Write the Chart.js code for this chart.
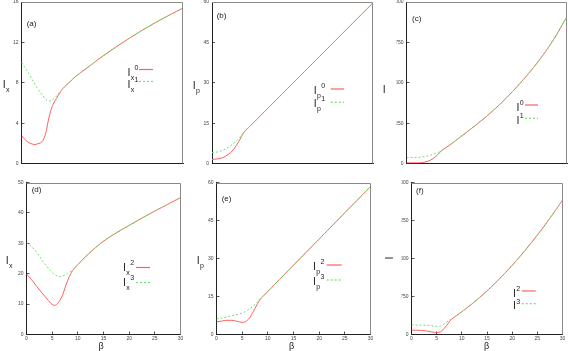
<!DOCTYPE html>
<html>
<head>
<meta charset="utf-8">
<script src="https://cdn.jsdelivr.net/npm/chart.js@4.4.0/dist/chart.umd.min.js"></script>
<style>
html,body{margin:0;padding:0;background:#fff;}
#wrap{position:relative;width:568px;height:351px;overflow:hidden;}
#wrap canvas{position:absolute;left:0;top:0;}
</style>
</head>
<body>
<div id="wrap"></div>
<script>
// (a) l_x, states 0 and 1
const betaA = [0,1,2,2.5,3,4,4.5,5,5.5,6,6.5,7,7.5,8,9,10,12,15,20,25,30];
const lx0 = [2.75,2.2,1.92,1.88,1.95,2.3,3.0,4.3,5.35,6.0,6.45,6.9,7.3,7.6,8.1,8.6,9.4,10.6,12.4,14.0,15.4];
const lx1 = [10.0,9.2,8.3,7.85,7.4,6.7,6.35,6.17,6.22,6.42,6.68,7.0,7.3,7.6,8.1,8.6,9.4,10.6,12.4,14.0,15.4];

// (b) l_p, states 0 and 1
const betaB = [0,1,2,3,4,5,5.5,6,7,8,10,15,20,25,30];
const lp0 = [1.5,1.7,2.2,3.3,5.2,8.2,10.0,11.7,13.7,15.7,19.7,29.7,39.7,49.7,59.7];
const lp1 = [4.0,4.3,4.9,6.0,7.4,9.3,10.5,11.7,13.7,15.7,19.7,29.7,39.7,49.7,59.7];

// (c) l, states 0 and 1
const betaC = [0,1,2,3,4,5,6,6.5,7,8,9,10,12.5,15,17.5,20,22.5,25,27.5,30];
const l0 = [4,4,4,6,14,31,60,78,90,113,137,162,226,293,368,452,545,648,768,910];
const l1 = [37,37,38,41,47,57,70,79,90,113,137,162,226,293,368,452,545,648,768,910];

// (d) l_x, states 2 and 3
const betaD = [0,1,2,3,4,5,5.5,6,6.5,7,7.5,8,8.5,9,10,12,15,20,25,30];
const lx2 = [19.9,18.0,15.8,13.7,11.7,9.9,9.6,10.1,11.2,12.9,15.3,17.7,19.6,21.1,23.0,26.4,30.7,35.9,40.6,45.0];
const lx3 = [30.3,28.9,27.0,24.5,22.3,20.4,19.7,19.2,19.0,19.2,19.6,20.1,20.6,21.1,23.0,26.4,30.7,35.9,40.6,45.0];

// (e) l_p, states 2 and 3
const betaE = [0,1,2,3,4,5,5.5,6,6.5,7,7.5,8,8.5,9,10,15,20,25,30];
const lp2 = [5.0,5.3,5.6,5.6,5.2,4.8,4.9,5.6,6.7,8.4,10.3,12.2,13.9,14.95,17.0,27.35,37.7,48.05,58.4];
const lp3 = [6.2,6.5,6.9,7.4,7.9,8.5,8.9,9.5,10.2,11.0,11.8,12.8,13.9,14.95,17.0,27.35,37.7,48.05,58.4];

// (f) l, states 2 and 3
const betaF = [0,1,2,3,4,5,5.5,6,6.5,7,7.5,8,8.5,9,10,12,15,17,20,22.5,25,27.5,30];
const l2 = [85,85,80,70,52,40,42,70,120,180,250,303,343,378,449,603,861,1052,1365,1652,1962,2295,2651];
const l3 = [185,185,185,180,172,160,160,180,210,245,280,316,343,378,449,603,861,1052,1365,1652,1962,2295,2651];

// axis ranges
const yMaxes = [16,60,1000,50,60,3000];
const ySteps = [4,15,250,10,15,750];
const xMax = 30, xStep = 5;

const W = 568, H = 351;
const RED = 'rgb(255,95,95)';
const GREEN = 'rgb(105,228,105)';
const FONT = '"Liberation Sans", Arial, sans-serif';
const wrap = document.getElementById('wrap');

function pts(xs, ys){
    return xs.map((x, i) => ({x: x, y: ys[i]}));
}

// l with subscript / superscript, drawn in sequence like gnuplot enhanced text
function drawSym(ctx, x, y, fs, sub, sup){
    ctx.font = fs + 'px ' + FONT;
    ctx.fillText('l', x, y);
    let cx = x + ctx.measureText('l').width + 0.6;
    const sf = Math.round(fs * 0.68);
    ctx.font = sf + 'px ' + FONT;
    if (sub){
        ctx.fillText(sub, cx, y + fs * 0.38);
        cx += ctx.measureText(sub).width + 0.3;
    }
    if (sup){
        ctx.fillText(sup, cx, y - fs * 0.5);
    }
}

function panel(cfg){
    const cv = document.createElement('canvas');
    cv.width = W; cv.height = H;
    cv.style.width = W + 'px'; cv.style.height = H + 'px';
    wrap.appendChild(cv);
    const [l, t, r, b] = cfg.rect;
    const YW = 10;
    const XH = cfg.xTicks ? 10 : 0;

    const extras = {
        id: 'extras' + cfg.tag,
        afterDraw(chart){
            const ctx = chart.ctx, a = chart.chartArea;
            ctx.save();
            // top and right border
            ctx.strokeStyle = '#8a8a8a';
            ctx.lineWidth = 1;
            ctx.beginPath();
            ctx.moveTo(a.left, Math.round(a.top) + 0.5);
            ctx.lineTo(Math.round(a.right) - 0.5, Math.round(a.top) + 0.5);
            ctx.lineTo(Math.round(a.right) - 0.5, a.bottom);
            ctx.stroke();

            ctx.fillStyle = '#222';
            ctx.textAlign = 'left';
            ctx.textBaseline = 'middle';
            ctx.font = '8px ' + FONT;
            ctx.fillText(cfg.tag, cfg.tagPos[0], cfg.tagPos[1]);

            ctx.textBaseline = 'alphabetic';
            // y axis label
            if (cfg.yRot){
                ctx.save();
                ctx.translate(cfg.yLab[0], cfg.yLab[1]);
                ctx.rotate(-Math.PI / 2);
                ctx.textAlign = 'center';
                ctx.font = '11px ' + FONT;
                ctx.fillText('l', 0, 4);
                ctx.restore();
            } else {
                drawSym(ctx, cfg.yLab[0], cfg.yLab[1], 11, cfg.ySub, '');
            }
            // x axis label
            if (cfg.xLab){
                ctx.textAlign = 'center';
                ctx.textBaseline = 'middle';
                ctx.font = '9px ' + FONT;
                ctx.fillText('\u03b2', cfg.xLab[0], cfg.xLab[1]);
            }
            // key
            const k = cfg.key;
            ctx.textAlign = 'left';
            ctx.textBaseline = 'alphabetic';
            for (let i = 0; i < 2; i++){
                const yy = k.y + i * k.dy;
                ctx.fillStyle = '#222';
                drawSym(ctx, k.x, yy, 11, k.sub, k.sup[i]);
                ctx.strokeStyle = i === 0 ? RED : GREEN;
                ctx.lineWidth = 1.2;
                ctx.setLineDash(i === 0 ? [] : [2, 2]);
                ctx.beginPath();
                ctx.moveTo(k.lx[0], yy + k.ly);
                ctx.lineTo(k.lx[1], yy + k.ly);
                ctx.stroke();
            }
            ctx.restore();
        }
    };

    const zeroPad = (s) => { s.paddingLeft = s.paddingRight = s.paddingTop = s.paddingBottom = 0; };

    new Chart(cv, {
        type: 'line',
        data: {
            datasets: [
                {data: pts(cfg.beta, cfg.s2), borderColor: GREEN, borderDash: [2, 2], borderWidth: 1,
                 pointRadius: 0, cubicInterpolationMode: 'monotone', fill: false, order: 0},
                {data: pts(cfg.beta, cfg.s1), borderColor: RED, borderWidth: 1,
                 pointRadius: 0, cubicInterpolationMode: 'monotone', fill: false, order: 1}
            ]
        },
        options: {
            responsive: false,
            animation: false,
            events: [],
            layout: {padding: {left: l - YW, top: t, right: W - r, bottom: H - b - XH}},
            plugins: {legend: {display: false}, tooltip: {enabled: false}},
            scales: {
                x: {
                    type: 'linear', min: 0, max: xMax,
                    ticks: {display: !!cfg.xTicks, stepSize: xStep, font: {size: 5, family: FONT}, color: '#444', padding: 4},
                    grid: {display: !!cfg.xTicks, drawOnChartArea: false, tickLength: -3, color: '#555'},
                    border: {color: '#222', width: 1},
                    afterFit(s){ s.height = XH; zeroPad(s); }
                },
                y: {
                    type: 'linear', min: 0, max: cfg.ymax,
                    ticks: {stepSize: cfg.ystep, font: {size: 5, family: FONT}, color: '#444', padding: 6},
                    grid: {drawOnChartArea: false, tickLength: -3, color: '#555'},
                    border: {color: '#222', width: 1},
                    afterFit(s){ s.width = YW; zeroPad(s); }
                }
            }
        },
        plugins: [extras]
    });
}

panel({tag: '(a)', rect: [21.5, 2, 183, 163.5], beta: betaA, s1: lx0, s2: lx1, ymax: yMaxes[0], ystep: ySteps[0],
       tagPos: [26.7, 24], yLab: [3, 87.5], ySub: 'x',
       key: {x: 127.7, y: 75.5, dy: 12, sub: 'x', sup: ['0', '1'], lx: [139, 153], ly: -6}});
panel({tag: '(b)', rect: [212, 2, 373, 163.5], beta: betaB, s1: lp0, s2: lp1, ymax: yMaxes[1], ystep: ySteps[1],
       tagPos: [216.7, 16], yLab: [193, 88.5], ySub: 'p',
       key: {x: 314, y: 93.5, dy: 13.3, sub: 'p', sup: ['0', '1'], lx: [330.7, 344], ly: -4.5}});
panel({tag: '(c)', rect: [406.5, 2, 567, 163.5], beta: betaC, s1: l0, s2: l1, ymax: yMaxes[2], ystep: ySteps[2],
       tagPos: [412, 18.5], yLab: [383, 93], ySub: '',
       key: {x: 516.7, y: 110.5, dy: 13.3, sub: '', sup: ['0', '1'], lx: [525, 538], ly: -5.5}});
panel({tag: '(d)', rect: [26.5, 182.5, 180.5, 334.5], beta: betaD, s1: lx2, s2: lx3, ymax: yMaxes[3], ystep: ySteps[3],
       xTicks: true, xLab: [101, 346.5],
       tagPos: [31.7, 189.5], yLab: [6, 263.5], ySub: 'x',
       key: {x: 123.3, y: 270.5, dy: 15, sub: 'x', sup: ['2', '3'], lx: [136, 150], ly: -3}});
panel({tag: '(e)', rect: [216.5, 182.5, 370.5, 334.5], beta: betaE, s1: lp2, s2: lp3, ymax: yMaxes[4], ystep: ySteps[4],
       xTicks: true, xLab: [291.7, 346.5],
       tagPos: [221.7, 198.3], yLab: [197, 263.5], ySub: 'p',
       key: {x: 313.3, y: 269.5, dy: 15, sub: 'p', sup: ['2', '3'], lx: [326.7, 341.7], ly: -4.5}});
panel({tag: '(f)', rect: [411.5, 182.5, 562.5, 334.5], beta: betaF, s1: l2, s2: l3, ymax: yMaxes[5], ystep: ySteps[5],
       xTicks: true, xLab: [486.7, 346.5],
       tagPos: [416, 191], yLab: [389, 258], yRot: true,
       key: {x: 513.3, y: 296.5, dy: 12.7, sub: '', sup: ['2', '3'], lx: [521.7, 535.7], ly: -5.5}});
</script>
</body>
</html>
